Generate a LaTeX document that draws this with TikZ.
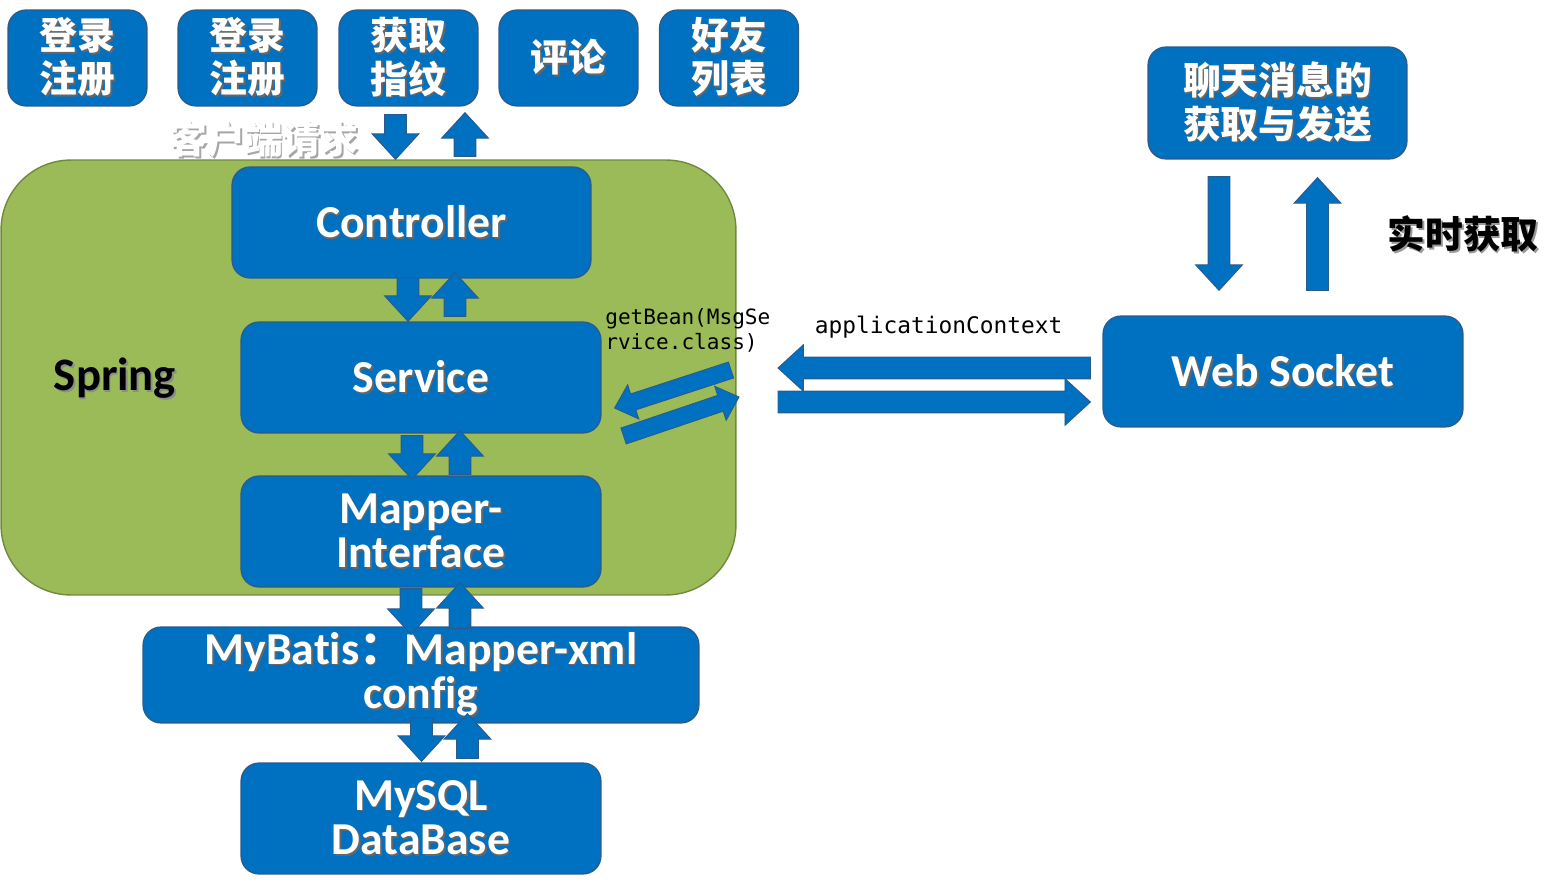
\documentclass[tikz,border=0pt]{standalone}
\usepackage{fontspec}
\setmainfont{Carlito}[Ligatures=NoCommon]
\newfontfamily\cjk{Noto Sans CJK SC}
\newfontfamily\code{DejaVu Sans Mono}
\usetikzlibrary{calc}

\definecolor{boxblue}{HTML}{0070C0}
\definecolor{boxedge}{HTML}{2C5A8A}
\definecolor{springfill}{HTML}{9BBB59}
\definecolor{springedge}{HTML}{71893F}

% text with a soft drop shadow
\newcommand{\shd}[2][black!60]{\leavevmode\rlap{\kern1pt\raisebox{-1pt}{\textcolor{#1}{#2}}}#2}

% block arrow from #2 to #3, #1 scales its width
\newcommand{\barrow}[3][1]{%
  \coordinate (ba) at #2;
  \coordinate (bb) at #3;
  \coordinate (bh) at ($(bb)!14.5pt*#1!(ba)$);
  \draw[arrowbox] ($(ba)!6.2pt*#1!90:(bb)$) -- ($(bh)!6.2pt*#1!90:(bb)$)
    -- ($(bh)!13.3pt*#1!90:(bb)$) -- (bb) -- ($(bh)!13.3pt*#1!-90:(bb)$)
    -- ($(bh)!6.2pt*#1!-90:(bb)$) -- ($(ba)!6.2pt*#1!-90:(bb)$) -- cycle;}

\tikzset{
  box/.style={draw=boxedge, line width=0.7pt, fill=boxblue, rounded corners=0.36cm,
    text=white, align=center, inner sep=0pt},
  cnbox/.style={box, minimum width=2.78cm, minimum height=1.92cm,
    font=\cjk\bfseries\fontsize{21.5}{24.6}\selectfont},
  enbox/.style={box, minimum width=7.2cm, minimum height=2.22cm,
    font=\bfseries\fontsize{26}{25.3}\selectfont},
  springbg/.style={draw=springedge, line width=0.8pt, fill=springfill,
    rounded corners=1.4cm, minimum width=14.7cm, minimum height=8.7cm},
  arrowbox/.style={draw=boxedge, line width=0.5pt, fill=boxblue},
}

\begin{document}
\begin{tikzpicture}[x=0.02cm,y=-0.02cm]
  \useasboundingbox (0,0) rectangle (1567,891);

  \node[springbg] (spring) at (368.5,377.5) {};
  \node[font=\bfseries\fontsize{26.5}{26}\selectfont] (springlbl) at (115,379) {\shd[black!45]{Spring}};

  \node[cnbox] (login1) at (77.5,58) {\shd{登录}\\\shd{注册}};
  \node[cnbox] (login2) at (247.5,58) {\shd{登录}\\\shd{注册}};
  \node[cnbox] (finger) at (408.5,58) {\shd{获取}\\\shd{指纹}};
  \node[cnbox] (comment) at (568.5,58) {\shd{评论}};
  \node[cnbox] (friends) at (729,58) {\shd{好友}\\\shd{列表}};
  \node[font=\cjk\bfseries\fontsize{21.5}{24}\selectfont, text=white] (request) at (264,140) {\shd[black!35]{客户端请求}};

  \node[enbox, minimum width=7.18cm] (ctrl) at (411.5,222.5) {\shd{Controller}};
  \node[enbox] (svc) at (421,377.5) {\shd{Service}};
  \node[enbox] (mapper) at (421,531.5) {\shd{Mapper-}\\\shd{Interface}};
  \node[enbox, minimum width=11.12cm, minimum height=1.92cm] (mybatis) at (421,675)
    {\shd{MyBatis{\cjk ：}Mapper-xml}\\\shd{config}};
  \node[enbox] (mysql) at (421,818.5) {\shd{MySQL}\\\shd{DataBase}};

  \node[box, minimum width=5.18cm, minimum height=2.24cm,
    font=\cjk\bfseries\fontsize{21.5}{24.6}\selectfont] (chat) at (1277.5,103)
    {\shd{聊天消息的}\\\shd{获取与发送}};
  \node[enbox] (ws) at (1283,371.5) {\shd{Web Socket}};
  \node[font=\cjk\bfseries\fontsize{21.5}{24}\selectfont] (realtime) at (1463,235) {\shd[black!40]{实时获取}};

  \node[font=\code\fontsize{12}{14.2}\selectfont, align=left, anchor=west, inner sep=0pt]
    (getbean) at (605,330) {getBean(MsgSe\\rvice.class)};
  \node[font=\code\fontsize{13}{15}\selectfont, inner sep=0pt] (appctx) at (938.5,327) {applicationContext};

  \barrow{($(finger.south)+(-13,8)$)}{($(ctrl.north)+(-16,-7)$)}
  \barrow{($(ctrl.north)+(53.5,-10)$)}{($(finger.south)+(56.5,6)$)}
  \barrow{($(ctrl.south)+(-3.5,-1)$)}{($(svc.north)+(-13,0)$)}
  \barrow{($(svc.north)+(34,-5)$)}{($(ctrl.south)+(43.5,-6)$)}
  \barrow{($(svc.south)+(-9,2)$)}{($(mapper.north)+(-9,4)$)}
  \barrow{($(mapper.north)+(39,-1)$)}{($(svc.south)+(39,-3)$)}
  \barrow{($(mapper.south)+(-10,1)$)}{($(mybatis.north)+(-10,8)$)}
  \barrow{($(mybatis.north)+(39,2)$)}{($(mapper.south)+(39,-5)$)}
  \barrow{($(mybatis.south)+(0.5,-6)$)}{($(mysql.north)+(0.5,-1)$)}
  \barrow{($(mysql.north)+(46.5,-4)$)}{($(mybatis.south)+(46.5,-10)$)}

  \barrow{($(chat.south)+(-58.5,17)$)}{($(ws.north)+(-64,-25)$)}
  \barrow{($(ws.north)+(34.5,-25)$)}{($(chat.south)+(40,18)$)}

  \coordinate (ctxleft) at (778,368);
  \coordinate (ctxright) at (778,402);
  \barrow{($(ws.west)+(-12,-3.5)$)}{(ctxleft)}
  \barrow{(ctxright)}{($(ws.west)+(-12,30.5)$)}

  \coordinate (beanin) at (731,370);
  \coordinate (beanout) at (739,397);
  \barrow[0.77]{(beanin)}{($(svc.east)+(13,30.5)$)}
  \barrow[0.77]{($(svc.east)+(22,58.5)$)}{(beanout)}
\end{tikzpicture}
\end{document}
